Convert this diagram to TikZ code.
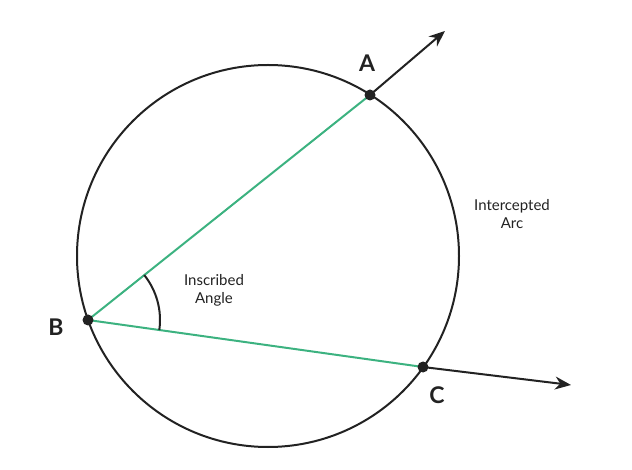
\documentclass[tikz,border=0pt]{standalone}
\usepackage{fontspec}
\setmainfont{Lato}
\usetikzlibrary{arrows.meta}
\definecolor{grn}{RGB}{60,178,128}
\definecolor{dk}{RGB}{34,34,34}
\tikzset{pt/.style={circle,fill=dk,inner sep=0pt,minimum size=11pt},
 lbl/.style={font=\fontsize{23}{23}\selectfont\bfseries,text=dk},
 small/.style={font=\fontsize{15}{18}\selectfont,text=dk,align=center},
 ray/.style={dk,line width=2pt,-{Stealth[length=16pt,width=13pt]}}}
\begin{document}
\begin{tikzpicture}[x=1pt,y=-1pt]
\useasboundingbox (0,0) rectangle (632,470);
\draw[dk,line width=2pt] (268,256) circle (191);
\coordinate (B0) at (88,320);
\coordinate (A0) at (370,95);
\coordinate (C0) at (423,367);
\coordinate (Aend) at (445,31);
\coordinate (Cend) at (571,385);
\draw[ray] (A0) -- (Aend);
\draw[ray] (C0) -- (Cend);
\draw[grn,line width=2pt] (A0) -- (B0) -- (C0);
\draw[dk,line width=2pt] ([shift={(-38.66:72)}]B0) arc[start angle=-38.66,end angle=8,radius=72];
\node[pt] (A) at (A0) {};
\node[pt] (B) at (B0) {};
\node[pt] (C) at (C0) {};
\node[lbl] (la) at (367,63) {A};
\node[lbl] (lb) at (56,327) {B};
\node[lbl] (lc) at (437,395) {C};
\node[small] (arc) at (512,214) {Intercepted\\Arc};
\node[small] (ang) at (214,290) {Inscribed\\Angle};
\end{tikzpicture}
\end{document}
